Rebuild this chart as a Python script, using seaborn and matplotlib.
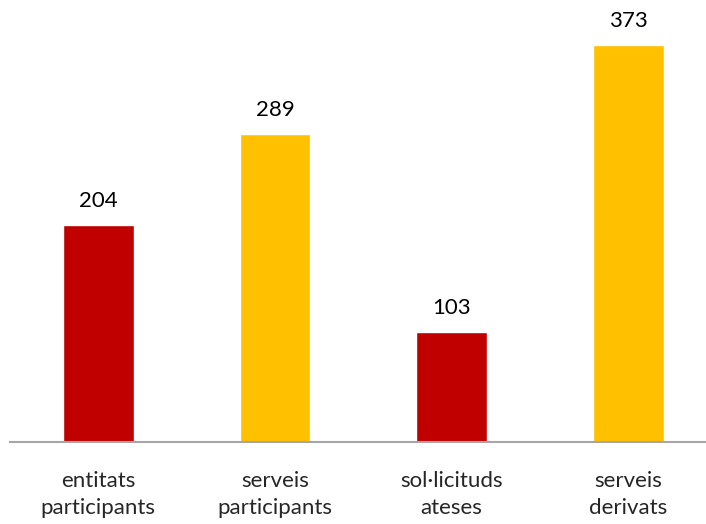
import matplotlib
matplotlib.use('Agg')
import matplotlib.pyplot as plt
import seaborn as sns
import pandas as pd

# Dades del gràfic
categories = ['entitats\nparticipants', 'serveis\nparticipants', 'sol·licituds\nateses', 'serveis\nderivats']
valors = [204, 289, 103, 373]
colors = ['#C00000', '#FFC000', '#C00000', '#FFC000']

df = pd.DataFrame({'categoria': categories, 'valor': valors})

sns.set_style('white')
plt.rcParams['font.family'] = ['Lato', 'DejaVu Sans']

fig = plt.figure(figsize=(7.06, 5.24), dpi=100)
ax = fig.add_axes([10 / 706, 82 / 524, 696 / 706, 442 / 524])

sns.barplot(data=df, x='categoria', y='valor', hue='categoria', palette=colors,
            width=0.4, legend=False, saturation=1, ax=ax)

for c in ax.containers:
    ax.bar_label(c, padding=10, fontsize=16, color='black')

ax.set_xlim(-0.5, 3.44)
ax.set_ylim(0, 415)
ax.set_xlabel('')
ax.set_ylabel('')
ax.set_yticks([])
ax.tick_params(axis='x', length=0, pad=21, labelsize=16)
for lab in ax.get_xticklabels():
    lab.set_linespacing(1.45)

for s in ['top', 'right', 'left']:
    ax.spines[s].set_visible(False)
ax.spines['bottom'].set_color('#A6A6A6')
ax.spines['bottom'].set_linewidth(1.5)

fig.savefig('out.png', dpi=100)
